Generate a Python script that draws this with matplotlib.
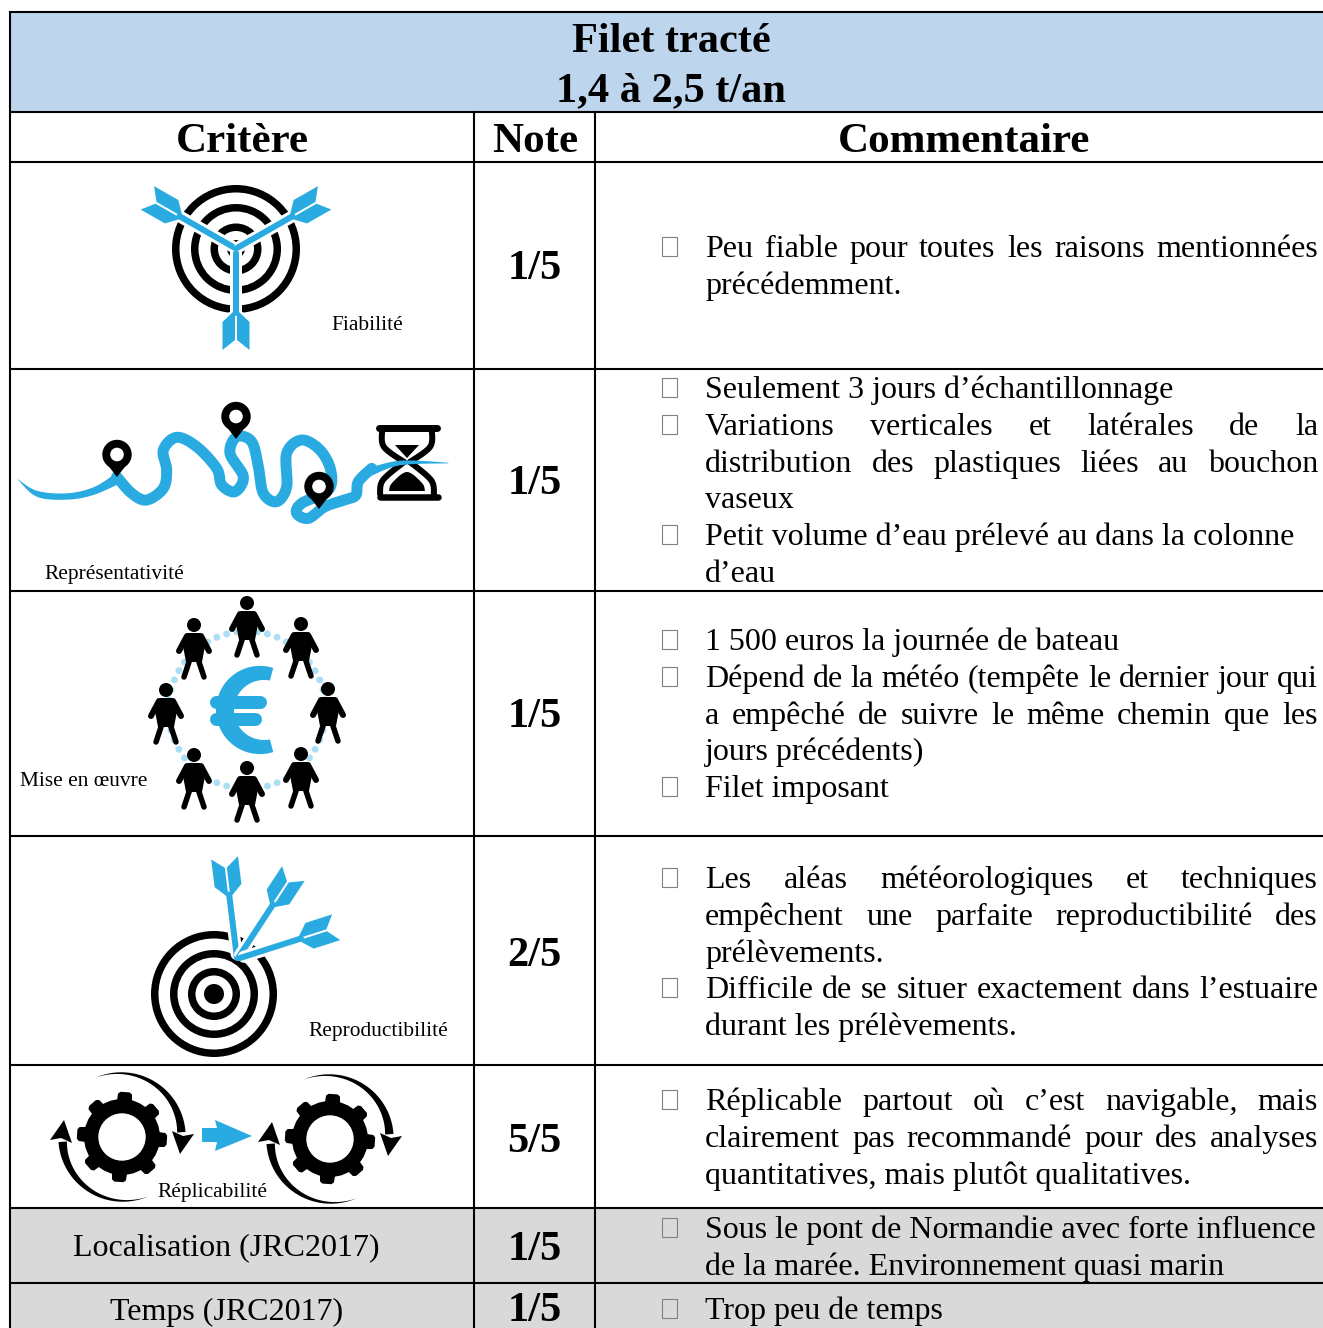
import matplotlib
matplotlib.use("Agg")
import matplotlib.pyplot as plt
from matplotlib.patches import Circle, Polygon, Rectangle
import numpy as np

plt.rcParams['font.family'] = ['Liberation Serif', 'DejaVu Serif']

BLUE = '#29ABE2'
LIGHT = '#A9DEF4'
HEAD = '#BDD6EE'
GREY = '#D9D9D9'

title_lines = ["Filet tracté", "1,4 à 2,5 t/an"]
headers = ["Critère", "Note", "Commentaire"]
notes = ["1/5", "1/5", "1/5", "2/5", "5/5", "1/5", "1/5"]
plain_criteria = ["Localisation (JRC2017)", "Temps (JRC2017)"]
icon_labels = ["Fiabilité", "Représentativité", "Mise en œuvre", "Reproductibilité", "Réplicabilité"]

# (text, starts with a bullet, justified)
comments = [
    [("Peu fiable pour toutes les raisons mentionnées", True, True),
     ("précédemment.", False, False)],
    [("Seulement 3 jours d’échantillonnage", True, False),
     ("Variations verticales et latérales de la", True, True),
     ("distribution des plastiques liées au bouchon", False, True),
     ("vaseux", False, False),
     ("Petit volume d’eau prélevé au dans la colonne", True, False),
     ("d’eau", False, False)],
    [("1 500 euros la journée de bateau", True, False),
     ("Dépend de la météo (tempête le dernier jour qui", True, True),
     ("a empêché de suivre le même chemin que les", False, True),
     ("jours précédents)", False, False),
     ("Filet imposant", True, False)],
    [("Les aléas météorologiques et techniques", True, True),
     ("empêchent une parfaite reproductibilité des", False, True),
     ("prélèvements.", False, False),
     ("Difficile de se situer exactement dans l’estuaire", True, True),
     ("durant les prélèvements.", False, False)],
    [("Réplicable partout où c’est navigable, mais", True, True),
     ("clairement pas recommandé pour des analyses", False, True),
     ("quantitatives, mais plutôt qualitatives.", False, False)],
    [("Sous le pont de Normandie avec forte influence", True, False),
     ("de la marée. Environnement quasi marin", False, False)],
    [("Trop peu de temps", True, False)],
]

# table layout, in pixels
row_lines = [12, 112, 162, 369, 591, 836, 1065, 1208, 1283]
col_lines = [10, 474, 595]
first_baseline = [257, 398, 650, 888, 1110, 1238, 1319]
note_y = [269, 484, 717, 956, 1142, 1250, 1311]
LINE = 36.8
TEXT_L, TEXT_R = 705, 1318

fig = plt.figure(figsize=(13.23, 13.28), dpi=100)
ax = fig.add_axes([0, 0, 1, 1])
ax.set_xlim(0, 1323)
ax.set_ylim(1328, 0)
ax.axis('off')

z = [10]


def next_z():
    z[0] += 1
    return z[0]


def poly(pts, color=BLUE):
    ax.add_patch(Polygon(pts, closed=True, fc=color, ec='none', zorder=next_z()))


def line(pts, color='black', w=2.0):
    pts = np.asarray(pts, dtype=float)
    ax.plot(pts[:, 0], pts[:, 1], color=color, lw=w * 0.72,
            solid_capstyle='round', solid_joinstyle='round', zorder=next_z())


def disc(x, y, r, color='black'):
    ax.add_patch(Circle((x, y), r, fc=color, ec='none', zorder=next_z()))


def smooth(points, n=14):
    # Catmull-Rom through hand picked points of the drawing
    p = np.asarray(points, dtype=float)
    p = np.vstack([p[0], p, p[-1]])
    out = []
    for i in range(1, len(p) - 2):
        for t in np.linspace(0, 1, n, endpoint=False):
            out.append(0.5 * (2 * p[i] + (p[i + 1] - p[i - 1]) * t
                              + (2 * p[i - 1] - 5 * p[i] + 4 * p[i + 1] - p[i + 2]) * t ** 2
                              + (3 * p[i] - p[i - 1] - 3 * p[i + 1] + p[i + 2]) * t ** 3))
    out.append(p[-2])
    return np.array(out)


def target(cx, cy, radii, spot):
    for r in radii:
        disc(cx, cy, r, 'black')
        disc(cx, cy, r - 7.5, 'white')
    disc(cx, cy, spot, 'black')


def arrow(tx, ty, ex, ey):
    # tip at (tx, ty), tail towards (ex, ey)
    d = np.array([ex - tx, ey - ty], dtype=float)
    d /= np.hypot(*d)
    n = np.array([-d[1], d[0]])
    tip = np.array([tx, ty])

    def loc(t, s):
        return tip + d * t + n * s

    line([loc(4, 0), loc(66, 0)], 'white', 12)
    for sign in (-1, 1):
        poly([loc(58, sign * 1), loc(72, sign * 16), loc(104, sign * 16), loc(94, sign * 1)], 'white')
    line([loc(0, 0), loc(64, 0)], BLUE, 6)
    for sign in (-1, 1):
        poly([loc(61, sign * 1), loc(73, sign * 13.5), loc(101, sign * 13.5), loc(91, sign * 1)])


def pin(x, tip_y):
    cy = tip_y - 22.5
    r = 14.7
    poly([(x - r + 0.4, cy + 4), (x, tip_y), (x + r - 0.4, cy + 4)], 'black')
    disc(x, cy, r, 'black')
    disc(x, cy, 6.8, 'white')


def person(x, y):
    disc(x, y, 7)
    poly([(x - 6, y + 8), (x + 6, y + 8), (x + 12, y + 16), (x + 8, y + 37), (x - 8, y + 37), (x - 12, y + 16)], 'black')
    line([(x - 7, y + 11), (x - 15, y + 26)], 'black', 6)
    line([(x + 7, y + 11), (x + 15, y + 26)], 'black', 6)
    line([(x - 4, y + 34), (x - 10, y + 52)], 'black', 5.5)
    line([(x + 4, y + 34), (x + 10, y + 52)], 'black', 5.5)


def gear(cx, cy):
    disc(cx, cy, 38)
    c = np.array([cx, cy])
    for a in np.radians(np.arange(0, 360, 45) + 4):
        d = np.array([np.sin(a), -np.cos(a)])
        n = np.array([-d[1], d[0]])
        poly([c + d * 30 - n * 8, c + d * 43 - n * 7, c + d * 45 - n * 4.5,
              c + d * 45 + n * 4.5, c + d * 43 + n * 7, c + d * 30 + n * 8], 'black')
    disc(cx, cy, 23.7, 'white')
    for sign in (1, -1):
        a = np.radians(np.linspace(-114, -4.6, 40))
        r = np.linspace(65, 59.5, 40)
        w = np.linspace(0, 4.2, 40)
        outer = np.c_[cx + sign * (r + w) * np.cos(a), cy + sign * (r + w) * np.sin(a)]
        inner = np.c_[cx + sign * (r - w) * np.cos(a), cy + sign * (r - w) * np.sin(a)]
        poly(np.vstack([outer, inner[::-1]]), 'black')
        poly([(cx + sign * 58, cy + sign * 17), (cx + sign * 50, cy - sign * 6),
              (cx + sign * 61, cy - sign * 1), (cx + sign * 72, cy - sign * 3)], 'black')


# backgrounds
ax.add_patch(Rectangle((col_lines[0], row_lines[0]), 1323 - col_lines[0], row_lines[1] - row_lines[0], fc=HEAD, ec='none', zorder=1))
ax.add_patch(Rectangle((col_lines[0], row_lines[7]), 1323 - col_lines[0], 1328 - row_lines[7], fc=GREY, ec='none', zorder=1))

# grid
for y in row_lines:
    ax.plot([col_lines[0] - 1, 1323], [y, y], color='black', lw=1.5, zorder=5, solid_capstyle='butt')
ax.plot([col_lines[0], col_lines[0]], [row_lines[0], 1328], color='black', lw=1.5, zorder=5)
for x in col_lines[1:]:
    ax.plot([x, x], [row_lines[1], 1328], color='black', lw=1.5, zorder=5)

# headers
for y, t in zip([42, 91], title_lines):
    ax.text(671, y, t, ha='center', va='center', fontsize=30.5, fontweight='bold', zorder=500)
for x, t in zip([242, 535, 964], headers):
    ax.text(x, 142, t, ha='center', va='center', fontsize=31, fontweight='bold', zorder=500)
for y, t in zip(note_y, notes):
    ax.text(534.5, y, t, ha='center', va='center', fontsize=30.5, fontweight='bold', zorder=500)
for x, y, t in zip([226, 226.5], [1248, 1312], plain_criteria):
    ax.text(x, y, t, ha='center', va='center', fontsize=23, zorder=500)

# comments
renderer = fig.canvas.get_renderer()
for base, lines_ in zip(first_baseline, comments):
    for i, (txt, bullet, just) in enumerate(lines_):
        y = base + i * LINE
        if bullet:
            ax.add_patch(Rectangle((661.5, y - 20), 15.5, 19, fc='none', ec='#808080', lw=0.8, zorder=40))
        if not just:
            ax.text(TEXT_L, y, txt, ha='left', va='baseline', fontsize=23, zorder=500)
            continue
        words = [ax.text(TEXT_L, y, w, ha='left', va='baseline', fontsize=23, zorder=500) for w in txt.split(' ')]
        widths = [w.get_window_extent(renderer).width for w in words]
        gap = (TEXT_R - TEXT_L - sum(widths)) / (len(words) - 1)
        x = TEXT_L
        for w, wd in zip(words, widths):
            w.set_x(x)
            x += wd + gap

# icon labels
label_pos = [(331, 330), (44.5, 579), (20.5, 786), (308.5, 1036), (157.5, 1197)]
for (x, y), t in zip(label_pos, icon_labels):
    ax.text(x, y, t, ha='left', va='baseline', fontsize=15.4, zorder=500)

# Fiabilité icon
target(236, 249, [64, 45, 25.5], 9)
arrow(236, 249, 236, 352)
arrow(235, 248, 148.5, 198.5)
arrow(237, 248, 323.5, 198.5)

# Représentativité icon
river = np.array([(350, 950), (395, 1000), (440, 1020), (490, 985), (500, 930), (490, 870), (530, 832), (590, 860),
                  (650, 925), (665, 975), (705, 995), (730, 950), (690, 880), (710, 830), (755, 845), (775, 920),
                  (790, 1000), (830, 1025), (860, 980), (860, 880), (905, 840), (960, 870), (992, 930), (985, 990),
                  (905, 1030), (890, 1060), (925, 1075), (975, 1040), (1040, 1018), (1068, 1005), (1075, 965),
                  (1115, 925)]) / 3 + [0, 160]
line(smooth(river), BLUE, 11)
tail_l = smooth(np.array([(50, 955), (110, 992), (200, 1000), (280, 982), (345, 942)]) / 3 + [0, 160])
tail_b = smooth(np.array([(365, 968), (280, 1005), (200, 1019), (110, 1010), (50, 955)]) / 3 + [0, 160])
poly(np.vstack([tail_l, tail_b]))
tail_t = smooth(np.array([(1095, 928), (1200, 902), (1345, 908)]) / 3 + [0, 160])
tail_u = smooth(np.array([(1345, 910), (1200, 916), (1115, 947)]) / 3 + [0, 160])
pin(117, 477)
pin(236, 439)
pin(319, 509)
hx = 407
line([(379, 427.5), (437, 427.5)], 'black', 7)
line([(380, 497), (438, 497)], 'black', 6.5)
for s in (-1, 1):
    top = smooth([(hx + s * 25, 431), (hx + s * 23, 447), (hx + s * 3, 462)])
    bot = smooth([(hx + s * 3, 462), (hx + s * 24, 480), (hx + s * 27, 494)])
    line(top, 'black', 6)
    line(bot, 'black', 6)
poly([(hx - 12, 445), (hx + 12, 445), (hx, 458)], 'black')
poly(smooth([(hx - 18, 491), (hx - 15, 483), (hx, 472), (hx + 15, 483), (hx + 18, 491)]), 'black')
poly(np.vstack([tail_t, tail_u]))

# Mise en oeuvre icon
for a in np.radians(np.arange(0, 360, 7.5)):
    disc(247 + 78.7 * np.cos(a), 710 + 78.7 * np.sin(a), 3.4, LIGHT)
for x, y in [(247, 603), (194, 625), (301, 624), (166, 690), (328, 689), (194, 755), (301, 754), (247, 768)]:
    person(x, y)
a = np.radians(np.linspace(-75, -285, 60))
rr = np.linspace(0, 1, 60)
w = 6.5 + 2.5 * np.sin(rr * np.pi)
poly(np.vstack([np.c_[262 + (37 + w) * np.cos(a), 710 + (37 + w) * np.sin(a)],
                np.c_[262 + (37 - w[::-1]) * np.cos(a[::-1]), 710 + (37 - w[::-1]) * np.sin(a[::-1])]]))
line([(216, 701.5), (260, 701.5)], BLUE, 13)
line([(216, 718.5), (255, 718.5)], BLUE, 13)

# Reproductibilité icon
target(214, 994, [63, 44, 26], 10)
arrow(237, 958, 224, 853)
arrow(238, 958, 295, 871)
arrow(240, 958, 337, 927)

# Réplicabilité icon
gear(122, 1137)
gear(330, 1139)
poly([(202, 1128), (217, 1128), (215, 1120), (252, 1136), (215, 1151), (217, 1142), (202, 1142)])

fig.savefig('out.png', dpi=100)
